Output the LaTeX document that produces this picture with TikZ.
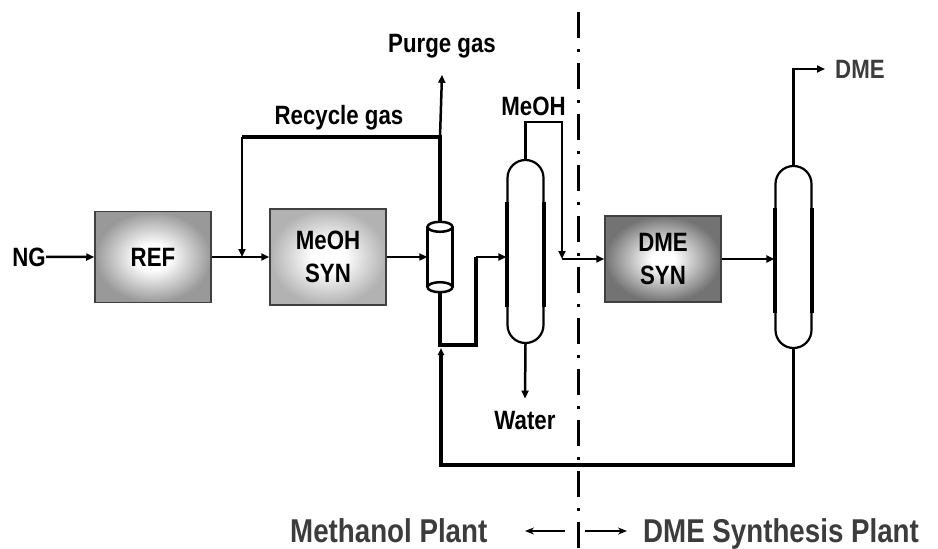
\documentclass[tikz,border=0pt]{standalone}
\usepackage{fontspec}
\setmainfont{Liberation Sans}[FakeStretch=0.84]
\usepackage{xcolor}
\usetikzlibrary{positioning,calc,arrows.meta}
\definecolor{boxline}{HTML}{404040}
\definecolor{labgray}{HTML}{3c3c3c}
\pgfdeclareradialshading{refshade}{\pgfpointorigin}{color(0bp)=(white); color(7bp)=(white); color(25bp)=(black!40); color(50bp)=(black!40)}
\pgfdeclareradialshading{msynshade}{\pgfpointorigin}{color(0bp)=(white); color(7bp)=(white); color(25bp)=(black!30); color(50bp)=(black!30)}
\pgfdeclareradialshading{dsynshade}{\pgfpointorigin}{color(0bp)=(white); color(5bp)=(white); color(25bp)=(black!55); color(50bp)=(black!55)}

\begin{document}
\begin{tikzpicture}[x=1pt, y=-1pt,
  lab/.style={font=\fontsize{26.5}{33}\selectfont\bfseries, inner sep=0pt},
  unit/.style={lab, draw=boxline, line width=1.5pt, align=center, minimum width=116pt},
  flow/.style={line width=2.5pt, -{Triangle[length=8pt,width=7pt]}},
  pipe/.style={line width=2.5pt},
  heavy/.style={line width=4.5pt},
  column/.style={draw, line width=2.2pt, minimum width=36pt, inner sep=0pt, rounded corners=17.9pt}]
  \useasboundingbox (0,0) rectangle (938,549);

  % Plant border
  \coordinate (divtop) at (578,12);
  \coordinate (divbot) at (578,549);
  \draw[line width=3pt, dash pattern=on 26pt off 11pt on 3pt off 11pt] (divtop) -- (divbot);

  % Units
  \node[unit, shading=refshade, minimum height=91pt] (ref) at (153,257) {REF};
  \node[unit, shading=msynshade, minimum height=96pt] (msyn) at (328,257) {MeOH\\SYN};
  \node[unit, shading=dsynshade, minimum height=86pt] (dsyn) at (663,259) {DME\\SYN};

  % Separator
  \node[minimum width=25pt, minimum height=60pt, inner sep=0pt] (sep) at (440,257) {};
  \draw[pipe] (sep.north west) -- (sep.south west) (sep.north east) -- (sep.south east);
  \draw[pipe] (sep.north) ellipse [x radius=12.5, y radius=5];
  \draw[pipe] (sep.south) ellipse [x radius=12.5, y radius=5];

  % Columns
  \node[column, minimum height=183pt] (mcol) at (525.5,251.5) {};
  \node[column, minimum height=182pt] (dcol) at (793.5,257) {};
  \draw[line width=3.6pt] ([xshift=0.7pt]mcol.west |- 0,202) -- ([xshift=0.7pt]mcol.west |- 0,307)
    ([xshift=-0.7pt]mcol.east |- 0,202) -- ([xshift=-0.7pt]mcol.east |- 0,307);
  \draw[line width=3.6pt] ([xshift=0.7pt]dcol.west |- 0,208) -- ([xshift=0.7pt]dcol.west |- 0,313)
    ([xshift=-0.7pt]dcol.east |- 0,208) -- ([xshift=-0.7pt]dcol.east |- 0,313);

  % Labels
  \node[lab, anchor=base east] (ng) at (46,266) {NG};
  \node[lab, anchor=base] (purge) at (442,52) {Purge gas};
  \node[lab, anchor=base] (recy) at (339,124) {Recycle gas};
  \node[lab, anchor=base] (meoh) at (533.5,115) {MeOH};
  \node[lab, anchor=base] (water) at (525,429) {Water};
  \node[lab, text=labgray, anchor=west] (dme) at (835,69) {DME};
  \node[lab, font=\fontsize{33}{36}\selectfont\bfseries, text=labgray, anchor=base west] (mplant) at (290,542) {Methanol Plant};
  \node[lab, font=\fontsize{33}{36}\selectfont\bfseries, text=labgray, anchor=base west] (dplant) at (643,542) {DME Synthesis Plant};

  % Main line
  \draw[flow] (ng.east) -- (ref.west);
  \draw[flow] (ref.east) -- (msyn.west);
  \draw[flow] (msyn.east) -- (sep.west);

  % Recycle gas and purge
  \coordinate (rtee) at (440,137);
  \coordinate (rdrop) at (242,137);
  \draw[heavy] ([yshift=5pt]sep.north) -- (rtee) -- (rdrop);
  \draw[flow] (rtee) -- ([yshift=-17pt]purge.south);
  \draw[flow] (rdrop) -- (rdrop |- ref.east);

  % Crude MeOH to column
  \coordinate (lq1) at (440,345);
  \coordinate (lq2) at (476,345);
  \coordinate (lq3) at (476,257);
  \draw[line width=4pt] ([yshift=-5pt]sep.south) -- (lq1) -- (lq2) -- (lq3);
  \draw[flow] (lq3) -- (lq3 -| mcol.west);
  \draw[flow] (mcol.south) -- ([yshift=12pt]water.north);

  % MeOH to DME SYN
  \coordinate (mt1) at (525.5,122);
  \coordinate (mt2) at (562,122);
  \coordinate (mt3) at (562,259);
  \draw[flow] (mcol.north) -- (mt1) -- (mt2) -- (mt3);
  \draw[flow] (mt3) -- (dsyn.west);
  \draw[flow] (dsyn.east) -- (dsyn.east -| dcol.west);

  % DME product
  \draw[flow] (dcol.north) -- (dcol.north |- dme.west) -- ([xshift=-10pt]dme.west);

  % Unconverted MeOH back
  \coordinate (ret1) at (793.5,465);
  \coordinate (ret2) at (441,465);
  \coordinate (ret3) at (441,348);
  \draw[line width=3.5pt, -{Triangle[length=7pt,width=6pt]}] (dcol.south) -- (ret1) -- (ret2) -- (ret3);

  % Plant arrows
  \coordinate (la1) at (565,531);
  \coordinate (la2) at (525,531);
  \coordinate (ra1) at (585,531);
  \coordinate (ra2) at (627,531);
  \draw[line width=2.2pt, -{Stealth[length=9pt,width=7pt]}] (la1) -- (la2);
  \draw[line width=2.2pt, -{Stealth[length=9pt,width=7pt]}] (ra1) -- (ra2);
\end{tikzpicture}
\end{document}
